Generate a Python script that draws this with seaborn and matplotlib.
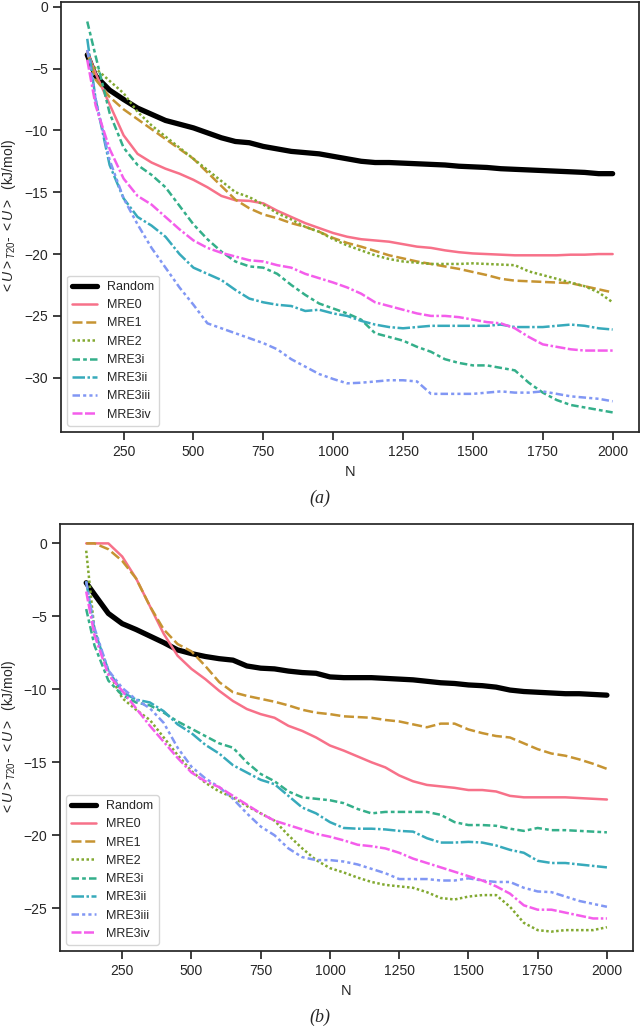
import matplotlib
matplotlib.use('Agg')
import matplotlib.pyplot as plt
import pandas as pd
import seaborn as sns

N = [120, 150] + list(range(200, 2001, 50))

methods = ['Random', 'MRE0', 'MRE1', 'MRE2', 'MRE3i', 'MRE3ii', 'MRE3iii', 'MRE3iv']

# ---- panel (a) ----
rand_a = [-3.9, -5.6, -6.75, -7.5, -8.2, -8.7, -9.2, -9.5, -9.8, -10.2, -10.6, -10.9, -11.0, -11.3, -11.5,
          -11.7, -11.8, -11.9, -12.1, -12.3, -12.5, -12.6, -12.6, -12.65, -12.7, -12.75, -12.8, -12.9,
          -12.95, -13.0, -13.1, -13.15, -13.2, -13.25, -13.3, -13.35, -13.4, -13.5, -13.5]
mre0_a = [-3.6, -5.4, -7.9, -10.4, -11.9, -12.6, -13.1, -13.5, -14.0, -14.6, -15.3, -15.65, -15.7, -15.9,
          -16.5, -17.0, -17.5, -17.9, -18.3, -18.6, -18.8, -18.9, -19.0, -19.2, -19.4, -19.5, -19.7,
          -19.85, -19.95, -20.0, -20.05, -20.1, -20.1, -20.1, -20.1, -20.05, -20.05, -20.0, -20.0]
mre1_a = [-3.7, -5.9, -7.3, -8.3, -9.1, -9.9, -10.7, -11.5, -12.3, -13.4, -14.5, -15.6, -16.3, -16.8,
          -17.1, -17.5, -17.8, -18.2, -18.7, -19.1, -19.4, -19.75, -20.1, -20.35, -20.6, -20.8, -21.0,
          -21.2, -21.45, -21.7, -22.0, -22.15, -22.2, -22.25, -22.3, -22.35, -22.6, -22.85, -23.1]
mre2_a = [-4.3, -5.0, -6.0, -7.0, -8.5, -9.6, -10.5, -11.4, -12.3, -13.2, -14.1, -15.0, -15.4, -16.0,
          -16.7, -17.2, -17.8, -18.2, -18.8, -19.3, -19.7, -20.1, -20.4, -20.6, -20.7, -20.8, -20.8,
          -20.8, -20.75, -20.8, -20.85, -20.9, -21.4, -21.7, -22.0, -22.3, -22.6, -23.1, -23.9]
mre3i_a = [-1.2, -4.0, -8.6, -11.4, -12.8, -13.6, -14.6, -16.1, -17.6, -18.8, -19.8, -20.6, -21.0, -21.1,
           -21.6, -22.5, -23.3, -24.0, -24.4, -24.8, -25.3, -26.4, -26.7, -27.0, -27.5, -27.9, -28.5,
           -28.8, -29.0, -29.0, -29.2, -29.4, -30.4, -31.2, -31.8, -32.2, -32.4, -32.6, -32.8]
mre3ii_a = [-2.6, -7.5, -12.8, -15.5, -17.0, -17.7, -18.6, -20.0, -21.1, -21.6, -22.1, -22.9, -23.6, -23.9,
            -24.1, -24.2, -24.6, -24.5, -24.8, -25.0, -25.4, -25.7, -25.9, -26.0, -25.9, -25.8, -25.8,
            -25.8, -25.8, -25.8, -25.7, -25.9, -25.9, -25.9, -25.8, -25.7, -25.8, -26.0, -26.1]
mre3iii_a = [-3.5, -7.5, -12.4, -15.5, -17.6, -19.5, -21.1, -22.7, -24.1, -25.6, -26.0, -26.4, -26.8, -27.2,
             -27.7, -28.5, -29.1, -29.7, -30.1, -30.45, -30.4, -30.3, -30.2, -30.2, -30.3, -31.3, -31.3,
             -31.3, -31.3, -31.2, -31.1, -31.2, -31.2, -31.1, -31.3, -31.5, -31.6, -31.7, -31.9]
mre3iv_a = [-4.3, -8.0, -11.5, -13.9, -15.3, -16.0, -17.0, -18.0, -18.9, -19.5, -19.9, -20.2, -20.5, -20.6,
            -20.9, -21.1, -21.6, -21.95, -22.3, -22.7, -23.2, -23.9, -24.2, -24.5, -24.8, -25.0, -25.0,
            -25.1, -25.3, -25.5, -25.6, -26.0, -26.7, -27.3, -27.5, -27.7, -27.8, -27.8, -27.8]

# ---- panel (b) ----
rand_b = [-2.7, -3.5, -4.8, -5.5, -5.9, -6.35, -6.8, -7.3, -7.55, -7.75, -7.9, -8.0, -8.4, -8.55, -8.6,
          -8.75, -8.85, -8.9, -9.15, -9.2, -9.2, -9.2, -9.25, -9.3, -9.35, -9.45, -9.55, -9.6, -9.7,
          -9.75, -9.85, -10.05, -10.15, -10.2, -10.25, -10.3, -10.3, -10.35, -10.4]
mre0_b = [0.0, 0.0, 0.0, -0.9, -2.4, -4.3, -6.2, -7.7, -8.6, -9.3, -10.1, -10.8, -11.35, -11.7, -11.95,
          -12.5, -12.85, -13.3, -13.85, -14.2, -14.6, -15.0, -15.35, -15.9, -16.3, -16.55, -16.65,
          -16.75, -16.9, -16.9, -17.0, -17.3, -17.4, -17.4, -17.4, -17.4, -17.45, -17.5, -17.55]
mre1_b = [0.0, 0.0, -0.4, -1.2, -2.4, -4.3, -5.9, -6.9, -7.4, -8.4, -9.5, -10.2, -10.45, -10.65, -10.85,
          -11.1, -11.4, -11.6, -11.7, -11.85, -11.9, -11.95, -12.1, -12.2, -12.4, -12.6, -12.35, -12.35,
          -12.75, -13.0, -13.2, -13.3, -13.7, -14.1, -14.4, -14.55, -14.8, -15.1, -15.45]
mre2_b = [-0.5, -6.0, -8.8, -10.6, -11.4, -12.1, -13.3, -14.5, -15.6, -16.4, -17.0, -17.4, -18.0, -18.5,
          -19.0, -20.0, -20.9, -21.7, -22.25, -22.55, -22.9, -23.2, -23.4, -23.5, -23.6, -23.9, -24.3,
          -24.4, -24.2, -24.1, -24.1, -24.9, -26.0, -26.5, -26.6, -26.5, -26.5, -26.5, -26.3]
mre3i_b = [-4.5, -7.0, -9.4, -10.4, -10.9, -11.1, -11.6, -12.2, -12.7, -13.2, -13.7, -14.0, -15.0, -15.8,
           -16.3, -17.0, -17.4, -17.5, -17.6, -17.8, -18.2, -18.5, -18.4, -18.4, -18.4, -18.4, -18.6,
           -19.1, -19.3, -19.3, -19.35, -19.55, -19.7, -19.5, -19.65, -19.65, -19.7, -19.75, -19.8]
mre3ii_b = [-2.6, -6.0, -8.7, -10.2, -10.7, -10.9, -11.5, -12.4, -13.0, -13.8, -14.4, -15.2, -15.7, -16.2,
            -16.5, -17.3, -18.1, -18.5, -19.1, -19.5, -19.55, -19.55, -19.6, -19.7, -19.75, -20.2, -20.5,
            -20.5, -20.45, -20.5, -20.7, -21.0, -21.2, -21.75, -21.9, -21.9, -22.0, -22.1, -22.2]
mre3iii_b = [-2.6, -5.8, -8.7, -9.9, -10.7, -11.3, -12.3, -14.0, -15.3, -16.1, -16.7, -17.5, -18.5, -19.4,
             -20.0, -20.9, -21.5, -21.7, -21.7, -21.8, -22.0, -22.3, -22.6, -23.0, -23.0, -23.0, -23.1,
             -23.1, -22.95, -23.1, -23.2, -23.2, -23.6, -23.85, -23.9, -24.2, -24.5, -24.7, -24.9]
mre3iv_b = [-3.3, -6.3, -9.0, -10.1, -11.3, -12.5, -13.6, -14.7, -15.7, -16.3, -16.7, -17.3, -17.9, -18.5,
            -19.0, -19.3, -19.6, -19.9, -20.1, -20.35, -20.65, -20.75, -20.9, -21.2, -21.6, -21.9, -22.2,
            -22.5, -22.8, -23.1, -23.5, -24.0, -24.8, -25.1, -25.1, -25.3, -25.5, -25.7, -25.7]

series_a = [rand_a, mre0_a, mre1_a, mre2_a, mre3i_a, mre3ii_a, mre3iii_a, mre3iv_a]
series_b = [rand_b, mre0_b, mre1_b, mre2_b, mre3i_b, mre3ii_b, mre3iii_b, mre3iv_b]


def long_table(series):
    parts = [pd.DataFrame({'N': N, 'dU': vals, 'method': name}) for name, vals in zip(methods, series)]
    return pd.concat(parts, ignore_index=True)


sns.set_theme(style='ticks')
plt.rcParams['font.family'] = ['Liberation Sans', 'DejaVu Sans']
plt.rcParams['mathtext.fontset'] = 'custom'
plt.rcParams['mathtext.rm'] = 'Liberation Sans'
plt.rcParams['mathtext.it'] = 'Liberation Sans:italic'

palette = dict(zip(methods, ['black'] + sns.color_palette('husl', 7)))
dashes = dict(zip(methods, ['', '', (4, 1.5), (1, 1), (3, 1.25, 1.5, 1.25), (5, 1, 1, 1),
                            (3, 1.25, 1.25, 1.25, 1.25, 1.25), (4, 1, 4, 1, 1, 1)]))
sizes = {m: 1.8 for m in methods}
sizes['Random'] = 3.8

ylabel = r'$<U>_{T20}$- $<U>$  (kJ/mol)'

fig = plt.figure(figsize=(6.4, 10.27), dpi=100)
ax_a = fig.add_axes([0.0953, 0.5794, 0.903, 0.4187])
ax_b = fig.add_axes([0.094, 0.074, 0.895, 0.4158])

for ax, series in [(ax_a, series_a), (ax_b, series_b)]:
    df = long_table(series)
    sns.lineplot(data=df, x='N', y='dU', hue='method', style='method', size='method',
                 hue_order=methods, style_order=methods, size_order=methods,
                 palette=palette, dashes=dashes, sizes=sizes, ax=ax)
    old = ax.get_legend()
    handles = old.legend_handles
    labels = [t.get_text() for t in old.get_texts()]
    old.remove()
    ax.legend(handles, labels, loc='lower left', fontsize=9)
    ax.set_xlabel('N', fontsize=10.5)
    ax.set_ylabel(ylabel, fontsize=10)
    ax.tick_params(labelsize=10)

fig.text(0.5, 0.515, '(a)', ha='center', va='center', family='Liberation Serif', style='italic', fontsize=13)
fig.text(0.5, 0.0097, '(b)', ha='center', va='center', family='Liberation Serif', style='italic', fontsize=13)

fig.savefig('out.png', dpi=100)
